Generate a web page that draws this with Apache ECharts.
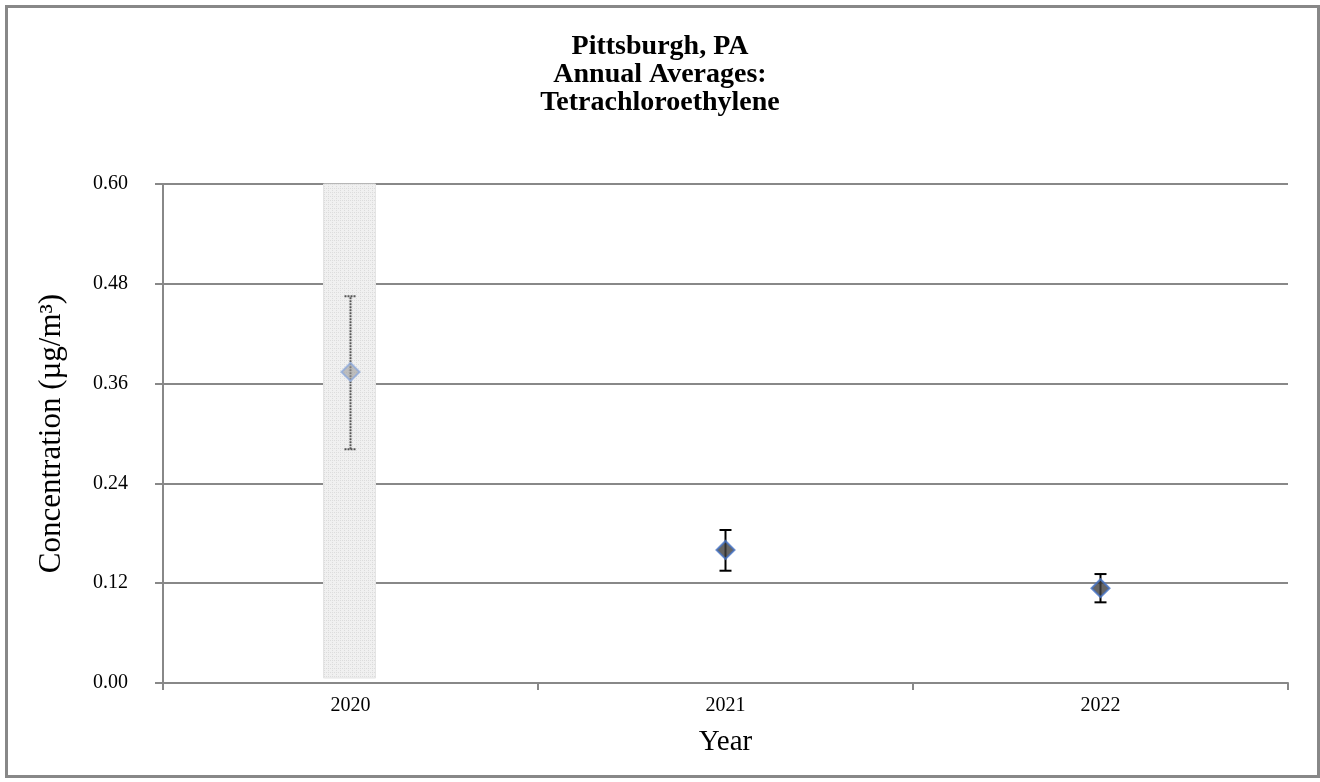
<!DOCTYPE html>
<html>
<head>
<meta charset="utf-8">
<script src="https://cdn.jsdelivr.net/npm/echarts@6/dist/echarts.min.js"></script>
<style>
html,body{margin:0;padding:0;background:#fff;}
#chart{width:1320px;height:782px;}
</style>
</head>
<body>
<div id="chart"></div>
<script>
var years = ['2020', '2021', '2022'];
var means = [0.374, 0.160, 0.114];
var lower = [0.281, 0.135, 0.097];
var upper = [0.465, 0.184, 0.131];
var shadedYears = ['2020'];
var shadeRange = [0.006, 0.6];
var yTicks = [0, 0.12, 0.24, 0.36, 0.48, 0.60];

var FONT = '"Liberation Serif", "Times New Roman", serif';

// pattern for shaded band
var pc = document.createElement('canvas');
pc.width = 4; pc.height = 4;
var pctx = pc.getContext('2d');
pctx.fillStyle = '#f0f0f0';
pctx.fillRect(0, 0, 4, 4);
pctx.fillStyle = '#dcdcdc';
pctx.fillRect(0, 0, 1, 1);
pctx.fillRect(2, 0, 1, 1);
pctx.fillRect(0, 2, 1, 1);

var chart = echarts.init(document.getElementById('chart'));

var errData = years.map(function (y, i) { return [i, lower[i], upper[i]]; });
var shadeData = shadedYears.map(function (y) { return [years.indexOf(y), shadeRange[0], shadeRange[1]]; });

var option = {
  animation: false,
  backgroundColor: '#fff',
  title: {
    text: 'Pittsburgh, PA\nAnnual Averages:\nTetrachloroethylene',
    left: 'center',
    top: 28,
    textStyle: { fontFamily: FONT, fontSize: 28, fontWeight: 'bold', color: '#000', lineHeight: 28 }
  },
  graphic: [{
    type: 'rect',
    shape: { x: 6.5, y: 6.5, width: 1312, height: 770 },
    style: { fill: 'none', stroke: '#888', lineWidth: 3 },
    silent: true, z: 100
  }],
  grid: { left: 163, right: 32, top: 184, bottom: 99 },
  xAxis: {
    type: 'category',
    data: years,
    boundaryGap: true,
    name: 'Year',
    nameLocation: 'middle',
    nameGap: 45,
    nameTextStyle: { fontFamily: FONT, fontSize: 29, color: '#000' },
    axisLine: { lineStyle: { color: '#888', width: 2 } },
    axisTick: { show: true, length: 7, lineStyle: { color: '#888', width: 2 } },
    axisLabel: { fontFamily: FONT, fontSize: 20, color: '#000', margin: 13 },
    splitLine: { show: false }
  },
  yAxis: {
    type: 'value',
    min: 0, max: 0.6, interval: 0.12,
    name: 'Concentration (µg/m³)',
    nameLocation: 'middle',
    nameGap: 96,
    nameRotate: 90,
    nameTextStyle: { fontFamily: FONT, fontSize: 31, color: '#000' },
    axisLine: { show: true, lineStyle: { color: '#888', width: 2 } },
    axisTick: { show: true, length: 8, lineStyle: { color: '#888', width: 2 } },
    axisLabel: { fontFamily: FONT, fontSize: 20, color: '#000', margin: 35,
      formatter: function (v) { return v.toFixed(2); } },
    splitLine: { show: true, lineStyle: { color: '#888', width: 2 } }
  },
  series: [
    {
      type: 'custom',
      name: 'shade',
      z: 1,
      data: shadeData,
      renderItem: function (params, api) {
        var a = api.coord([api.value(0), api.value(1)]);
        var b = api.coord([api.value(0), api.value(2)]);
        var w = 52;
        return {
          type: 'rect',
          shape: { x: a[0] - w / 2 - 1, y: b[1], width: w, height: a[1] - b[1] },
          style: { fill: { image: pc, repeat: 'repeat' }, stroke: '#e4e4e4', lineWidth: 1 }
        };
      }
    },
    {
      type: 'custom',
      name: 'error',
      z: 3,
      data: errData,
      renderItem: function (params, api) {
        var lo = api.coord([api.value(0), api.value(1)]);
        var hi = api.coord([api.value(0), api.value(2)]);
        var cap = 6;
        var faded = shadedYears.indexOf(years[api.value(0)]) >= 0;
        var st = faded ? { stroke: '#555', lineWidth: 2, lineDash: [2, 1] } : { stroke: '#000', lineWidth: 2 };
        return {
          type: 'group',
          children: [
            { type: 'line', shape: { x1: lo[0], y1: lo[1], x2: hi[0], y2: hi[1] }, style: st },
            { type: 'line', shape: { x1: hi[0] - cap, y1: hi[1], x2: hi[0] + cap, y2: hi[1] }, style: st },
            { type: 'line', shape: { x1: lo[0] - cap, y1: lo[1], x2: lo[0] + cap, y2: lo[1] }, style: st }
          ]
        };
      }
    },
    {
      type: 'scatter',
      name: 'mean',
      z: 4,
      symbol: 'diamond',
      symbolSize: 18,
      data: years.map(function (y, i) {
        var faded = shadedYears.indexOf(y) >= 0;
        return {
          value: [i, means[i]],
          itemStyle: faded
            ? { color: 'rgba(150,150,150,0.7)', borderColor: '#8eaadb', borderWidth: 2 }
            : { color: '#3f3f3f', borderColor: '#4472c4', borderWidth: 2 }
        };
      })
    }
  ]
};
chart.setOption(option);
</script>
</body>
</html>
